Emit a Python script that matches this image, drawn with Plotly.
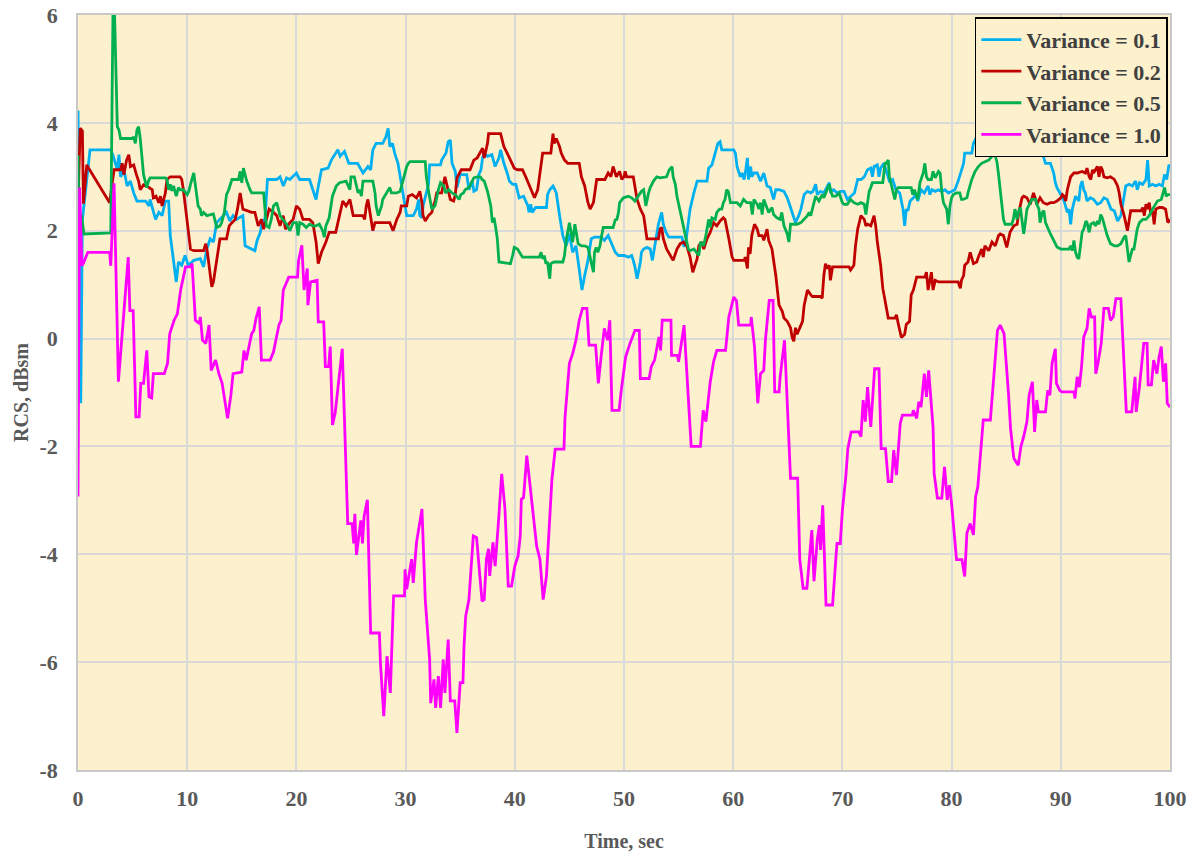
import plotly.graph_objects as go

# ---------------- data ----------------
names = ["Variance = 0.1", "Variance = 0.2", "Variance = 0.5", "Variance = 1.0"]
colors = ["#00B0F0", "#C00000", "#00B050", "#FF00FF"]

x_ticks = [0, 10, 20, 30, 40, 50, 60, 70, 80, 90, 100]
y_ticks = [-8, -6, -4, -2, 0, 2, 4, 6]
y_tick_text = ["-8", "-6", "-4", "-2", "0", "2", "4", "6"]

var01 = [(0,4.23),(0.25,-1.2),(0.4,2.2),(0.7,2.76),(1.1,3.5),(3.0,3.5),(3.2,3.4),(3.6,3.13),(3.75,3.41),(3.9,3.0),(4.2,3.13),(4.5,2.83),(4.8,2.92),(5.1,2.7),(5.4,2.55),(6.2,2.55),(6.5,2.46),(6.6,2.58),(6.9,2.34),(7.1,2.21),(7.4,2.34),(7.7,2.28),(8.0,2.55),(8.3,2.55),(8.45,1.91),(8.75,1.48),(9.0,1.05),(9.2,1.42),(9.5,1.36),(9.8,1.54),(10.1,1.36),(10.6,1.45),(11.2,1.48),(11.5,1.33),(11.8,1.66),(12.1,1.85),(12.4,1.79),(12.7,2.15),(13.6,2.34),(13.9,2.18),(14.2,2.28),(14.5,2.21),(15.1,2.28),(15.3,1.72),(16.2,1.63),(16.4,1.82),(16.7,1.97),(16.9,2.21),(17.1,2.15),(17.35,2.95),(18.2,2.95),(18.5,3.0),(18.8,2.83),(19.1,2.98),(19.4,2.95),(20.0,3.07),(20.3,2.95),(21.2,2.95),(21.5,2.76),(21.8,2.58),(21.95,2.76),(22.3,3.13),(22.9,3.16),(23.2,3.31),(23.8,3.5),(24.0,3.38),(24.4,3.47),(24.8,3.25),(25.6,3.25),(26.1,3.07),(26.55,3.19),(26.8,3.13),(27.0,3.5),(27.3,3.62),(27.9,3.62),(28.2,3.74),(28.4,3.9),(28.55,3.56),(28.8,3.62),(29.0,3.44),(29.3,3.25),(29.5,3.0),(29.8,2.7),(30.1,2.28),(30.7,2.28),(31.0,2.4),(31.2,2.58),(31.3,2.28),(31.5,2.24),(31.6,2.46),(32.1,2.86),(32.2,3.22),(33.2,3.22),(33.3,3.31),(33.7,3.44),(33.9,3.65),(34.1,3.68),(34.25,3.25),(34.55,3.1),(34.7,2.8),(35.0,3.04),(35.6,3.04),(35.8,2.76),(36.1,2.92),(36.25,2.73),(36.5,2.76),(36.7,3.04),(36.9,3.13),(37.05,3.35),(37.2,3.44),(37.5,3.38),(37.9,3.41),(38.2,3.19),(38.55,3.35),(38.7,3.5),(39.0,3.25),(39.3,3.07),(39.5,2.92),(39.8,2.86),(40.1,2.86),(40.4,2.61),(40.8,2.64),(41.2,2.46),(41.3,2.34),(41.45,2.49),(41.6,2.34),(41.9,2.43),(42.25,2.43),(42.9,2.43),(43.0,2.67),(43.2,2.76),(43.5,2.83),(43.8,2.7),(44.1,2.28),(44.4,1.91),(44.7,1.72),(45.0,1.94),(45.3,1.6),(45.6,1.72),(45.85,1.36),(46.15,0.9),(46.4,1.17),(46.7,1.45),(47.0,1.85),(47.3,1.88),(47.9,1.88),(48.2,1.82),(48.55,1.91),(48.9,1.76),(49.2,1.6),(49.5,1.54),(50.0,1.54),(50.4,1.51),(50.7,1.54),(50.85,1.45),(51.0,1.33),(51.2,1.11),(51.5,1.42),(51.6,1.6),(51.8,1.66),(52.1,1.69),(52.4,1.66),(52.6,1.45),(52.85,1.72),(53.15,2.12),(53.45,2.34),(53.6,2.12),(53.85,1.97),(54.1,1.88),(55.3,1.88),(55.5,1.7),(55.7,1.85),(56.05,2.4),(56.4,2.7),(56.7,2.92),(57.6,2.92),(57.75,3.16),(58.05,3.22),(58.35,3.44),(58.6,3.62),(58.8,3.65),(58.95,3.5),(60.05,3.5),(60.2,3.44),(60.35,3.19),(60.65,3.0),(60.8,3.07),(61.0,2.95),(61.15,3.13),(61.3,3.35),(61.4,2.95),(61.6,3.19),(61.7,3.0),(61.9,3.07),(62.2,3.07),(62.5,2.92),(62.8,3.07),(63.1,2.83),(63.4,2.8),(63.7,2.58),(63.9,2.76),(64.2,2.76),(64.65,2.73),(64.95,2.61),(65.25,2.43),(65.4,2.34),(65.7,2.15),(66.0,2.28),(66.2,2.4),(66.5,2.67),(66.8,2.73),(67.1,2.7),(67.3,2.73),(67.55,2.86),(67.7,2.67),(68.0,2.73),(68.3,2.7),(68.8,2.89),(68.9,2.73),(69.2,2.76),(69.5,2.7),(69.85,2.73),(70.15,2.73),(70.45,2.58),(70.75,2.64),(71.1,2.7),(71.4,2.95),(71.7,2.95),(72.0,3.0),(72.3,3.13),(72.6,3.16),(72.75,3.0),(72.9,3.19),(73.2,3.22),(73.35,3.0),(73.5,3.16),(73.8,3.25),(74.0,3.1),(74.3,2.92),(74.6,2.95),(74.9,2.76),(75.25,2.7),(75.4,2.52),(75.55,2.4),(75.7,2.09),(75.85,2.4),(76.0,2.37),(76.2,2.55),(76.5,2.61),(76.7,2.67),(76.9,2.55),(77.2,2.76),(77.5,2.7),(77.85,2.83),(78.0,2.67),(78.2,2.76),(78.5,2.73),(78.8,2.76),(79.1,2.73),(79.4,2.76),(79.7,2.7),(80.0,2.73),(80.3,2.76),(80.6,2.92),(80.8,3.07),(81.1,3.25),(81.2,3.44),(81.85,3.44),(82.0,3.62),(82.3,3.74),(82.6,3.8),(82.75,3.87),(82.9,3.78),(83.2,3.87),(83.4,3.93),(83.5,3.96),(83.7,3.62),(84.45,3.62),(84.6,3.68),(84.9,3.56),(85.05,3.5),(85.4,3.59),(85.7,3.62),(85.85,3.47),(86.0,3.62),(86.2,3.59),(86.45,3.5),(87.05,3.5),(87.2,3.65),(87.4,3.71),(87.7,3.62),(87.8,3.53),(88.1,3.5),(88.4,3.38),(88.6,3.25),(89.05,3.25),(89.35,3.07),(89.5,2.89),(89.65,2.8),(90.0,2.67),(90.3,2.55),(90.6,2.34),(90.75,2.4),(90.9,2.12),(91.05,2.4),(91.35,2.64),(91.65,2.55),(91.8,2.83),(91.95,2.92),(92.1,2.76),(92.25,2.7),(92.4,2.55),(92.7,2.61),(93.0,2.58),(93.35,2.49),(93.65,2.52),(93.95,2.61),(94.25,2.58),(94.6,2.4),(94.9,2.37),(95.2,2.18),(95.5,2.28),(95.8,2.67),(95.95,2.83),(96.25,2.86),(96.55,2.83),(96.85,2.92),(97.0,2.76),(97.2,2.89),(97.5,2.86),(97.8,2.95),(97.95,3.31),(98.1,2.83),(98.4,2.86),(98.7,2.83),(99.0,2.86),(99.3,2.83),(99.5,3.04),(99.7,2.95),(99.9,3.22),(100,3.2)]

var02 = [(0,2.5),(0.2,3.9),(0.4,3.85),(0.5,2.5),(0.8,3.22),(2.9,2.52),(3.3,3.13),(3.9,3.13),(4.05,3.25),(4.2,3.04),(4.45,3.31),(4.65,3.41),(4.8,3.19),(5.1,3.22),(5.35,3.04),(5.55,2.92),(5.7,2.76),(5.85,2.82),(6.0,2.85),(6.5,2.8),(6.8,2.76),(6.9,2.61),(7.15,2.64),(7.4,2.52),(7.55,2.64),(7.7,2.46),(8.0,2.7),(8.15,2.95),(8.45,3.0),(9.35,3.0),(9.5,2.95),(9.65,2.76),(9.9,2.34),(10.3,1.66),(10.6,1.63),(11.5,1.63),(11.7,1.76),(11.85,1.6),(12.0,1.36),(12.25,0.96),(12.4,1.05),(12.7,1.48),(13.0,1.85),(13.6,1.85),(13.85,2.09),(14.1,2.15),(14.4,2.21),(14.6,2.4),(14.85,2.7),(15.1,2.4),(15.9,2.34),(16.2,2.34),(16.5,2.09),(16.8,2.21),(17.0,2.03),(17.25,2.21),(17.5,2.4),(17.9,2.34),(18.2,2.28),(18.5,2.09),(18.8,2.28),(19.0,2.03),(19.4,2.15),(19.7,2.21),(20.0,2.46),(20.3,2.4),(20.6,2.21),(21.2,2.21),(21.5,2.15),(21.8,1.79),(22.0,1.39),(22.3,1.6),(22.7,1.79),(23.0,1.97),(23.6,1.97),(23.8,2.15),(24.25,2.55),(24.55,2.46),(24.9,2.58),(25.2,2.28),(26.1,2.28),(26.25,2.21),(26.4,2.46),(26.55,2.58),(26.7,2.4),(27.0,2.0),(27.2,2.15),(28.55,2.15),(28.85,2.0),(29.2,2.21),(29.5,2.34),(29.6,2.46),(30.1,2.46),(30.25,2.64),(30.6,2.67),(30.85,2.64),(31.0,2.61),(31.3,2.73),(31.5,2.52),(31.6,2.28),(31.8,2.18),(32.1,2.28),(32.4,2.34),(32.55,2.46),(32.7,2.55),(32.85,2.7),(33.3,2.7),(33.6,3.0),(33.75,2.86),(33.9,2.76),(34.1,2.58),(34.4,2.55),(34.55,2.67),(34.7,2.98),(34.9,3.07),(35.1,3.13),(35.9,3.13),(36.25,3.31),(36.55,3.35),(36.9,3.47),(37.05,3.53),(37.2,3.35),(37.35,3.47),(37.5,3.62),(37.6,3.8),(38.7,3.8),(38.85,3.68),(39.0,3.56),(39.3,3.44),(39.6,3.31),(39.95,3.16),(40.25,3.13),(40.7,3.13),(41.0,3.0),(41.3,2.86),(41.6,2.7),(41.8,2.61),(42.1,2.76),(42.35,3.16),(42.55,3.44),(43.3,3.44),(43.5,3.8),(43.6,3.62),(43.8,3.71),(44.1,3.56),(44.25,3.44),(44.55,3.31),(44.85,3.25),(45.9,3.25),(46.1,3.0),(46.4,2.83),(46.7,2.52),(46.9,2.4),(47.2,2.52),(47.5,2.95),(48.25,2.95),(48.55,3.07),(48.8,3.0),(49.0,3.19),(49.3,3.0),(49.6,3.1),(49.8,2.95),(50.0,3.0),(50.1,3.1),(50.25,3.0),(50.85,3.0),(51.2,2.58),(51.5,2.4),(51.8,2.28),(52.1,1.85),(53.15,1.85),(53.3,2.03),(53.45,2.06),(53.6,1.85),(53.9,1.66),(54.2,1.54),(54.5,1.45),(54.85,1.66),(55.15,1.76),(55.45,1.79),(55.75,1.72),(56.05,1.51),(56.3,1.23),(56.5,1.36),(56.7,1.48),(56.85,1.72),(57.1,1.79),(57.3,1.66),(57.6,1.85),(57.9,1.97),(58.2,2.15),(58.5,2.09),(58.8,2.18),(59.1,2.24),(59.25,2.21),(59.6,1.85),(59.9,1.51),(60.05,1.45),(61.0,1.45),(61.1,1.51),(61.3,1.3),(61.4,1.69),(61.55,1.57),(61.7,1.91),(61.95,2.12),(62.2,2.03),(62.35,1.91),(62.65,1.91),(62.8,1.82),(63.1,2.03),(63.25,1.82),(63.55,1.66),(63.9,1.17),(64.2,0.62),(64.5,0.5),(64.65,0.38),(64.95,0.32),(65.25,0.2),(65.4,0.02),(65.55,-0.05),(65.7,0.2),(65.85,0.08),(66.2,0.26),(66.35,0.32),(66.5,0.62),(66.65,0.78),(66.8,0.9),(67.1,0.81),(67.25,0.78),(68.0,0.78),(68.15,0.75),(68.3,1.17),(68.45,1.39),(68.6,1.3),(68.8,1.36),(68.9,1.08),(69.1,1.33),(70.6,1.33),(70.75,1.27),(71.05,1.36),(71.2,1.72),(71.4,2.03),(71.55,2.15),(71.7,2.28),(72.0,2.21),(72.15,2.09),(72.3,2.12),(72.6,2.09),(72.9,2.28),(73.05,2.09),(73.2,1.79),(73.5,1.36),(73.7,0.93),(74.0,0.56),(74.2,0.38),(74.8,0.38),(74.95,0.44),(75.1,0.29),(75.25,0.17),(75.4,0.02),(75.7,0.08),(75.85,0.26),(76.15,0.32),(76.3,0.81),(76.5,0.9),(76.8,1.14),(77.55,1.14),(77.7,1.23),(77.85,0.9),(78.0,1.11),(78.15,1.23),(78.3,0.9),(78.5,1.08),(78.8,1.05),(80.6,1.05),(80.8,0.93),(80.9,1.08),(81.1,1.17),(81.2,1.36),(81.5,1.42),(81.7,1.6),(82.0,1.39),(82.3,1.42),(82.45,1.51),(82.6,1.6),(82.75,1.66),(82.9,1.51),(83.05,1.72),(83.4,1.63),(83.7,1.79),(84.0,1.72),(84.3,1.91),(84.45,1.94),(84.75,1.91),(85.05,1.69),(85.35,1.97),(85.7,2.09),(86.0,2.12),(86.15,2.34),(86.45,2.61),(86.6,2.64),(86.9,2.61),(87.2,2.49),(87.5,2.7),(87.65,2.61),(87.8,2.49),(88.1,2.61),(88.4,2.52),(88.75,2.49),(89.05,2.52),(89.35,2.52),(89.65,2.55),(90.0,2.61),(90.15,2.67),(90.3,2.64),(90.45,2.55),(90.6,2.76),(90.9,3.0),(91.2,3.07),(91.5,3.07),(91.95,3.1),(92.25,3.07),(92.4,3.16),(92.6,3.0),(92.75,2.95),(92.9,3.13),(93.0,3.07),(93.35,3.19),(93.5,3.0),(93.65,3.19),(93.8,3.13),(93.95,3.0),(94.25,2.98),(94.55,3.0),(94.9,2.95),(95.2,2.83),(95.35,2.7),(95.5,2.49),(95.8,2.28),(95.95,2.15),(96.1,2.0),(96.25,2.18),(96.4,2.37),(97.35,2.37),(97.5,2.43),(97.65,2.28),(97.8,2.49),(97.95,2.4),(98.1,2.52),(98.25,2.3),(98.4,2.37),(98.55,2.12),(98.7,2.4),(99.0,2.43),(99.3,2.43),(99.6,2.4),(99.8,2.15),(100,2.21)]

var05 = [(0,3.4),(0.1,2.15),(0.3,2.3),(0.55,1.94),(3.0,1.96),(3.2,6.0),(3.35,6.0),(3.6,3.93),(3.75,3.87),(3.9,3.71),(4.95,3.71),(5.1,3.74),(5.25,3.62),(5.4,3.87),(5.55,3.93),(5.7,3.71),(5.85,3.38),(6.0,3.04),(6.15,2.92),(6.3,2.8),(6.45,2.92),(6.6,2.98),(8.0,2.98),(8.15,2.95),(8.3,2.76),(8.45,2.86),(8.6,2.74),(8.75,2.83),(9.0,2.64),(9.2,2.8),(9.35,2.76),(9.65,2.76),(10.0,2.67),(10.15,2.73),(10.3,2.86),(10.6,3.07),(10.7,2.92),(10.9,2.67),(11.0,2.46),(11.2,2.4),(11.3,2.28),(11.5,2.34),(11.8,2.28),(12.4,2.31),(12.7,2.06),(13.0,2.09),(13.15,2.15),(13.4,2.34),(13.6,2.67),(13.8,2.76),(14.1,2.95),(14.7,2.95),(14.85,3.1),(15.0,2.89),(15.15,3.16),(15.3,3.04),(15.45,2.92),(15.75,2.76),(15.9,2.7),(17.0,2.7),(17.1,2.46),(17.25,2.09),(17.5,2.06),(17.7,2.21),(17.9,2.46),(18.2,2.52),(18.5,2.28),(18.8,2.21),(19.1,2.12),(19.4,2.0),(19.7,2.15),(20.0,2.15),(20.15,1.91),(20.3,2.15),(20.6,2.12),(20.9,2.06),(21.2,2.12),(21.5,2.09),(21.8,2.09),(22.1,2.12),(22.4,2.0),(22.55,1.88),(22.7,2.09),(23.0,2.24),(23.3,2.64),(23.65,2.83),(23.95,2.89),(24.55,2.92),(24.9,2.76),(25.0,3.0),(25.3,3.0),(25.5,2.83),(25.65,2.7),(25.8,2.76),(25.95,2.64),(26.1,2.92),(27.0,2.92),(27.2,2.7),(27.3,2.46),(27.5,2.28),(27.8,2.46),(27.9,2.58),(28.25,2.7),(28.55,2.8),(28.7,2.7),(29.2,2.7),(29.5,2.73),(29.8,2.95),(29.95,3.1),(30.1,3.19),(30.25,3.25),(30.4,3.28),(31.8,3.28),(31.9,3.0),(32.1,2.73),(32.25,2.52),(32.4,2.4),(32.7,2.46),(32.85,2.64),(33.0,2.76),(33.2,2.89),(33.5,2.83),(33.65,2.7),(33.95,2.76),(34.25,2.7),(34.55,2.67),(34.9,2.58),(35.05,2.67),(35.3,2.7),(35.45,2.76),(35.8,2.8),(35.95,2.86),(36.1,2.95),(36.25,2.98),(36.55,3.0),(36.85,3.0),(37.0,2.95),(37.2,2.92),(37.5,2.73),(37.8,2.46),(37.95,2.15),(38.1,2.24),(38.25,2.06),(38.4,1.85),(38.55,1.42),(39.6,1.39),(39.8,1.54),(39.95,1.69),(40.25,1.66),(40.7,1.51),(42.25,1.51),(42.4,1.6),(42.55,1.48),(42.7,1.54),(42.85,1.39),(43.0,1.42),(43.2,1.11),(43.3,1.39),(43.6,1.42),(44.4,1.42),(44.55,1.54),(44.7,1.82),(45.0,2.15),(45.2,1.94),(45.3,1.79),(45.5,2.12),(45.65,1.91),(45.8,1.76),(46.1,1.72),(46.4,1.72),(46.7,1.69),(46.85,1.54),(47.0,1.42),(47.2,1.23),(47.3,1.6),(47.45,1.69),(47.6,1.6),(47.8,1.72),(47.9,1.85),(48.1,2.06),(49.0,2.06),(49.2,2.2),(49.35,2.21),(49.5,2.34),(49.6,2.52),(49.95,2.61),(50.4,2.64),(50.7,2.61),(51.0,2.55),(51.3,2.64),(51.6,2.73),(51.8,2.76),(52.0,2.46),(52.25,2.7),(52.4,2.8),(52.7,2.92),(53.0,3.0),(53.3,2.98),(53.9,3.0),(54.15,3.13),(54.4,3.19),(54.5,3.0),(54.7,2.86),(54.85,2.64),(55.15,2.34),(55.3,2.24),(55.45,2.03),(55.75,1.79),(55.9,1.66),(56.05,1.63),(56.4,1.66),(56.5,1.63),(56.85,1.54),(57.0,1.79),(57.3,1.72),(57.55,1.97),(57.75,2.21),(57.9,2.06),(58.05,2.24),(58.35,2.21),(58.5,2.34),(58.75,2.4),(58.95,2.4),(59.1,2.52),(59.25,2.58),(59.4,2.76),(59.55,2.73),(59.75,2.52),(60.35,2.52),(60.65,2.46),(60.95,2.58),(61.25,2.52),(61.6,2.52),(61.75,2.3),(61.9,2.58),(62.2,2.49),(62.35,2.4),(62.5,2.52),(62.65,2.3),(62.8,2.58),(63.1,2.4),(63.25,2.34),(63.55,2.43),(63.7,2.3),(64.0,2.24),(64.3,2.21),(64.45,2.34),(64.65,2.09),(64.95,1.94),(65.1,1.79),(65.25,2.12),(65.85,2.12),(66.2,2.15),(66.5,2.21),(66.8,2.28),(66.95,2.34),(67.1,2.28),(67.4,2.52),(67.55,2.64),(67.85,2.55),(68.15,2.67),(68.3,2.61),(68.5,2.7),(68.8,2.86),(68.9,2.76),(69.1,2.64),(69.4,2.64),(69.7,2.7),(70.0,2.52),(70.15,2.49),(70.45,2.49),(70.75,2.58),(71.05,2.52),(71.4,2.49),(71.7,2.52),(72.0,2.49),(72.15,2.3),(72.3,2.58),(72.45,2.73),(72.6,2.8),(72.75,2.89),(73.7,2.89),(73.8,3.1),(73.9,3.25),(74.0,3.25),(74.2,3.31),(74.3,3.0),(74.5,2.83),(74.6,2.7),(74.8,2.58),(74.95,2.76),(75.1,2.8),(76.3,2.8),(76.45,2.67),(76.6,2.76),(76.9,2.58),(77.1,2.89),(77.25,2.98),(77.4,3.07),(77.55,3.25),(77.7,3.0),(77.85,2.95),(78.15,2.95),(78.3,3.1),(78.5,2.98),(78.8,3.1),(78.95,3.07),(79.1,2.73),(79.25,2.52),(79.55,2.4),(79.7,2.12),(79.85,2.46),(80.0,2.61),(80.15,2.67),(80.45,2.7),(80.75,2.7),(80.9,2.58),(81.05,2.58),(81.4,2.61),(81.5,2.7),(81.85,2.95),(82.15,3.1),(82.45,3.19),(82.75,3.25),(83.05,3.28),(83.4,3.31),(83.7,3.38),(83.85,3.44),(84.0,3.38),(84.15,3.28),(84.3,3.04),(84.45,2.76),(84.6,2.52),(84.75,2.21),(84.9,2.12),(85.5,2.12),(85.65,2.21),(85.8,2.4),(86.0,2.21),(86.1,2.34),(86.3,2.43),(86.45,2.15),(86.6,1.94),(86.75,2.15),(86.9,2.4),(87.05,2.46),(87.2,2.52),(87.35,2.58),(87.7,2.58),(87.8,2.49),(88.0,2.4),(88.1,2.15),(88.3,2.34),(88.45,2.37),(88.6,2.15),(88.75,2.09),(88.9,2.03),(89.05,1.94),(89.2,1.88),(89.35,1.82),(89.5,1.76),(89.65,1.7),(90.0,1.66),(90.75,1.66),(90.9,1.72),(91.05,1.63),(91.2,1.82),(91.35,1.6),(91.5,1.51),(91.65,1.48),(91.8,1.72),(91.95,1.97),(92.1,2.03),(92.3,2.18),(92.4,2.15),(92.6,1.97),(92.75,2.12),(93.0,2.15),(93.2,2.09),(93.35,2.18),(93.5,2.12),(93.65,2.3),(93.8,2.24),(93.95,2.12),(94.25,1.91),(94.55,1.76),(94.9,1.72),(95.2,1.72),(95.5,1.76),(95.8,1.88),(95.95,1.91),(96.1,1.66),(96.25,1.42),(96.4,1.54),(96.55,1.66),(96.7,1.66),(96.85,1.82),(97.0,2.03),(97.2,2.15),(97.5,2.21),(97.8,2.21),(98.1,2.28),(98.4,2.4),(98.55,2.46),(98.85,2.55),(99.2,2.58),(99.5,2.8),(99.65,2.64),(99.8,2.67),(100,2.67)]

var10 = [(0,-2.93),(0.15,2.8),(0.35,1.35),(0.5,1.4),(0.9,1.6),(2.9,1.6),(3.0,1.35),(3.3,2.88),(3.7,-0.8),(4.6,1.51),(4.75,0.52),(5.05,0.52),(5.3,-1.45),(5.6,-1.45),(5.75,-0.83),(6.0,-0.83),(6.3,-0.22),(6.5,-1.08),(6.75,-1.1),(6.9,-0.65),(7.9,-0.65),(8.2,-0.46),(8.4,0.09),(8.8,0.34),(9.1,0.46),(9.4,0.9),(9.85,1.33),(10.3,1.33),(10.45,1.39),(10.6,0.77),(10.75,0.34),(11.1,0.28),(11.2,0.4),(11.4,-0.03),(11.7,-0.09),(12.0,0.25),(12.2,-0.59),(12.6,-0.4),(12.9,-0.65),(13.2,-0.83),(13.7,-1.48),(14.0,-1.05),(14.2,-0.65),(15.0,-0.62),(15.2,-0.22),(15.4,-0.4),(15.9,0.09),(16.1,0.15),(16.3,0.37),(16.6,0.59),(16.8,-0.4),(17.6,-0.4),(17.9,-0.25),(18.4,0.25),(18.6,0.34),(18.8,0.9),(19.3,1.14),(20.1,1.14),(20.2,1.45),(20.5,1.73),(20.7,0.9),(21.0,1.3),(21.05,0.62),(21.3,1.05),(21.9,1.08),(22.0,0.31),(22.5,0.31),(22.65,-0.52),(22.95,-0.52),(23.1,-0.15),(23.3,-1.6),(23.55,-1.38),(23.85,-0.77),(24.2,-0.19),(24.7,-3.43),(25.1,-3.43),(25.25,-3.8),(25.35,-3.25),(25.5,-4.01),(25.9,-3.37),(26.05,-3.8),(26.2,-3.3),(26.5,-2.99),(26.8,-5.46),(27.6,-5.46),(27.7,-6.02),(28.0,-7.0),(28.3,-5.89),(28.6,-6.57),(28.9,-4.77),(29.9,-4.77),(29.95,-4.28),(30.1,-4.65),(30.55,-4.09),(30.7,-4.53),(31.0,-3.78),(31.5,-3.16),(31.8,-4.84),(32.2,-5.95),(32.3,-6.76),(32.6,-6.32),(32.75,-6.85),(33.0,-6.26),(33.2,-6.85),(33.45,-5.95),(33.6,-6.57),(33.9,-5.58),(34.1,-6.72),(34.5,-6.72),(34.7,-7.31),(35.0,-6.38),(35.25,-6.38),(35.35,-5.7),(35.5,-5.15),(35.8,-4.84),(36.0,-4.22),(36.2,-3.66),(36.5,-3.69),(36.7,-4.22),(37.0,-4.87),(37.2,-4.84),(37.4,-4.09),(37.6,-3.9),(37.7,-4.4),(38.0,-3.78),(38.2,-4.22),(38.5,-3.41),(38.8,-2.51),(39.1,-3.16),(39.4,-4.59),(39.7,-4.59),(40.0,-4.22),(40.3,-4.03),(40.5,-3.66),(40.6,-2.98),(40.8,-2.95),(41.1,-2.17),(41.6,-3.04),(42.0,-3.85),(42.3,-4.09),(42.6,-4.84),(42.9,-4.4),(43.1,-3.72),(43.4,-2.61),(43.7,-2.05),(44.5,-2.05),(44.6,-1.46),(45.0,-0.46),(45.3,-0.28),(45.6,-0.03),(45.9,0.34),(46.2,0.56),(46.6,0.56),(46.8,-0.12),(47.4,-0.12),(47.65,-0.83),(47.9,-0.34),(48.2,0.19),(48.5,-0.03),(48.7,0.34),(48.9,-1.33),(49.55,-1.33),(49.75,-0.96),(50.15,-0.34),(50.55,-0.09),(51.0,0.15),(51.4,0.15),(51.5,-0.74),(52.3,-0.74),(52.5,-0.52),(52.8,-0.4),(53.2,0.03),(53.35,-0.22),(53.5,0.34),(54.3,0.34),(54.35,-0.31),(54.9,-0.31),(55.0,-0.43),(55.5,0.25),(55.85,-0.93),(56.15,-2.0),(57.0,-2.0),(57.25,-1.33),(57.5,-1.54),(57.9,-0.8),(58.2,-0.43),(58.5,-0.22),(59.3,-0.22),(59.6,0.4),(60.05,0.77),(60.3,0.7),(60.5,0.25),(61.6,0.25),(61.65,0.4),(61.95,-0.15),(62.25,-1.2),(62.5,-0.65),(62.8,-0.59),(62.95,-0.03),(63.3,0.71),(63.65,0.71),(63.8,-0.99),(64.2,-0.99),(64.3,-0.71),(64.7,-0.03),(65.25,-2.59),(65.9,-2.59),(66.1,-4.1),(66.4,-4.63),(66.75,-4.63),(67.2,-3.55),(67.4,-4.5),(67.7,-3.73),(67.9,-3.46),(68.0,-3.92),(68.2,-3.09),(68.5,-4.94),(69.1,-4.94),(69.5,-3.8),(69.8,-3.8),(70.0,-3.18),(70.3,-2.59),(70.5,-2.04),(70.8,-1.73),(71.5,-1.73),(71.7,-1.82),(71.9,-1.14),(72.1,-1.54),(72.3,-0.9),(72.6,-1.64),(72.95,-0.56),(73.35,-0.56),(73.55,-2.04),(73.95,-2.04),(74.2,-2.65),(74.5,-2.65),(74.7,-2.07),(74.95,-2.53),(75.3,-1.57),(75.5,-1.42),(76.4,-1.42),(76.5,-1.33),(76.8,-1.48),(77.0,-1.17),(77.2,-1.27),(77.5,-0.65),(77.7,-1.08),(77.9,-0.59),(78.3,-1.64),(78.4,-2.5),(78.7,-2.96),(79.1,-2.96),(79.35,-2.38),(79.6,-2.99),(79.8,-2.72),(80.0,-3.06),(80.45,-4.1),(80.95,-4.1),(81.2,-4.41),(81.4,-3.61),(81.7,-3.43),(82.0,-3.64),(82.2,-2.93),(82.4,-2.75),(82.6,-2.19),(82.9,-1.51),(83.55,-1.51),(83.9,-0.68),(84.2,0.15),(84.45,0.25),(84.8,0.09),(85.2,-0.99),(85.4,-1.67),(85.7,-2.22),(86.1,-2.35),(86.35,-2.0),(86.6,-1.82),(86.9,-1.54),(87.1,-1.05),(87.4,-0.8),(87.6,-1.73),(87.8,-1.14),(87.95,-1.36),(88.6,-1.36),(88.8,-0.96),(89.0,-1.05),(89.2,-0.46),(89.5,-0.19),(89.6,-0.83),(89.9,-0.96),(90.1,-0.99),(91.2,-0.99),(91.3,-1.11),(91.5,-0.71),(91.7,-0.9),(91.9,-0.52),(92.1,0.03),(92.4,0.19),(92.6,0.56),(92.8,0.4),(93.1,0.4),(93.2,-0.65),(93.4,-0.46),(93.7,-0.09),(93.95,0.56),(94.35,0.56),(94.55,0.34),(94.8,0.4),(95.05,0.74),(95.5,0.74),(95.7,0.0),(96.0,-1.36),(96.5,-1.36),(96.8,-0.71),(96.9,-1.36),(97.2,-0.9),(97.6,-0.09),(97.9,-0.09),(98.0,-0.86),(98.3,-0.86),(98.5,-0.4),(98.8,-0.65),(99.0,-0.34),(99.2,-0.15),(99.4,-0.8),(99.6,-0.46),(99.75,-1.2),(100,-1.27)]

series = [var01, var02, var05, var10]

# ---------------- figure ----------------
SERIF = "Liberation Serif, Times New Roman, serif"
TXT = "#595959"
PLOT_BG = "#FDF0CC"

fig = go.Figure()
for name, col, pts in zip(names, colors, series):
    xs = [p[0] for p in pts]
    ys = [p[1] for p in pts]
    fig.add_trace(go.Scatter(x=xs, y=ys, mode="lines", name=name,
                             line=dict(color=col, width=2.8)))

axis_common = dict(showgrid=True, gridcolor="#D9D9D9", gridwidth=1.5,
                   showline=True, linecolor="#C8C8C8", linewidth=1.5, mirror=True,
                   zeroline=False, ticks="", automargin=False,
                   ticklabeloverflow="allow",
                   tickfont=dict(family=SERIF, size=22, color=TXT, weight="bold"))

fig.update_xaxes(range=[0, 100], tickvals=x_ticks, ticklabelstandoff=8,
                 title=dict(text="Time, sec", standoff=24,
                            font=dict(family=SERIF, size=20, color=TXT, weight="bold")),
                 **axis_common)
fig.update_yaxes(range=[-8, 6], tickvals=y_ticks, ticktext=y_tick_text,
                 ticklabelstandoff=14,
                 title=dict(text="RCS, dBsm", standoff=6,
                            font=dict(family=SERIF, size=20, color=TXT, weight="bold")),
                 **axis_common)

fig.update_layout(
    width=1196, height=859,
    margin=dict(l=78, r=26, t=15, b=89),
    paper_bgcolor="white",
    plot_bgcolor=PLOT_BG,
    showlegend=True,
    legend=dict(x=0.998, y=0.997, xanchor="right", yanchor="top",
                bgcolor=PLOT_BG, bordercolor="#000000", borderwidth=1.5,
                font=dict(family=SERIF, size=22, color="#404040", weight="bold"),
                tracegroupgap=0, itemwidth=40),
)

# remove the default 8px page margin so the figure sits at the window origin
fig.write_html("out.html", config={"displayModeBar": False},
               post_script="document.body.style.margin='0';")
